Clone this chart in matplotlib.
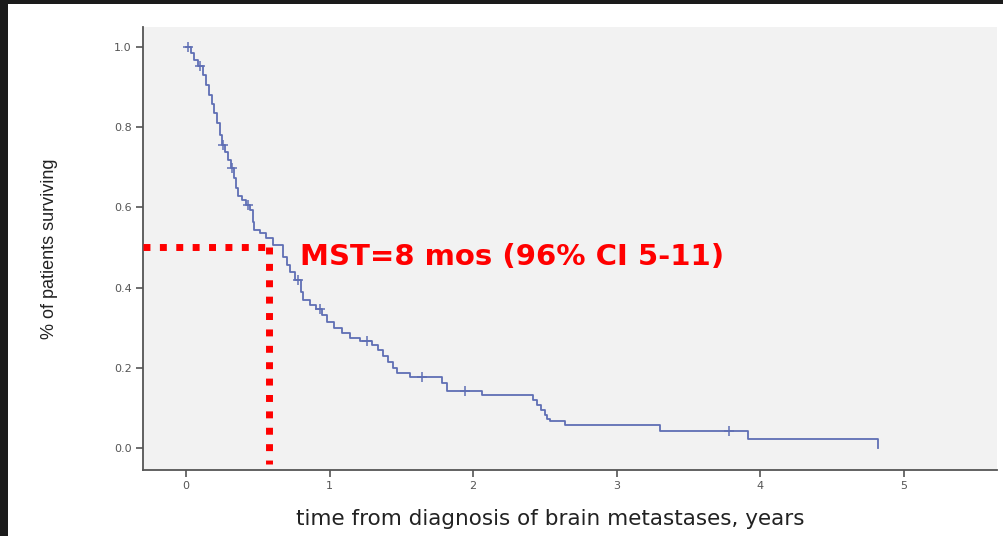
import numpy as np
import matplotlib
matplotlib.use("Agg")
import matplotlib.pyplot as plt
from matplotlib.patches import Rectangle

# Kaplan-Meier estimate: time (years) of each drop and survival level after it
event_times = [0.0, 0.035, 0.056, 0.084, 0.118, 0.139, 0.160, 0.181, 0.195, 0.216,
               0.237, 0.251, 0.272, 0.292, 0.313, 0.334, 0.348, 0.362, 0.390, 0.418,
               0.446, 0.467, 0.474, 0.515, 0.557, 0.606, 0.675, 0.703, 0.724, 0.759,
               0.801, 0.815, 0.864, 0.905, 0.947, 0.982, 1.031, 1.086, 1.142, 1.212,
               1.295, 1.337, 1.372, 1.407, 1.442, 1.469, 1.560, 1.783, 1.818, 2.061,
               2.416, 2.444, 2.472, 2.500, 2.514, 2.535, 2.639, 3.301, 3.914, 4.819]
survival = [1.000, 0.985, 0.968, 0.953, 0.930, 0.905, 0.880, 0.858, 0.835, 0.810,
            0.781, 0.756, 0.738, 0.718, 0.698, 0.673, 0.648, 0.628, 0.618, 0.606,
            0.594, 0.564, 0.544, 0.536, 0.524, 0.506, 0.476, 0.456, 0.439, 0.419,
            0.389, 0.369, 0.357, 0.347, 0.332, 0.314, 0.299, 0.287, 0.274, 0.267,
            0.257, 0.244, 0.229, 0.214, 0.200, 0.187, 0.177, 0.162, 0.142, 0.132,
            0.120, 0.107, 0.095, 0.082, 0.072, 0.067, 0.057, 0.042, 0.022, 0.000]
# censored observations (years)
censor_times = [0.014, 0.097, 0.255, 0.320, 0.432, 0.780, 0.933, 1.260, 1.643, 1.943, 3.781]

x_ticks = [0, 1, 2, 3, 4, 5]
y_ticks = [0.0, 0.2, 0.4, 0.6, 0.8, 1.0]
y_ticklabels = ["0.0", "0.2", "0.4", "0.6", "0.8", "1.0"]

median_survival = 0.5
median_marker_time = 0.575
annotation = "MST=8 mos (96% CI 5-11)"

W, H = 1004, 536
fig = plt.figure(figsize=(W / 100, H / 100), dpi=100, facecolor="#1b1b1b")
# white slide panel behind the chart
fig.patches.append(Rectangle((8 / W, 0), 1 - 8 / W, 1 - 3.5 / H,
                             transform=fig.transFigure, facecolor="white",
                             edgecolor="none", zorder=-5))

ax = fig.add_axes([143 / W, (H - 470) / H, 854 / W, 443 / H])
ax.set_zorder(2)
ax.set_facecolor("#f2f2f2")
ax.set_xlim(-0.299, 5.648)
ax.set_ylim(-0.055, 1.050)

line_col = "#5f6fb4"
ax.step(event_times, survival, where="post", color=line_col, lw=1.3, zorder=3)

t_arr = np.array(event_times)
s_arr = np.array(survival)
idx = np.searchsorted(t_arr, censor_times, side="right") - 1
ax.plot(censor_times, s_arr[idx], linestyle="none", marker="+", ms=6.5,
        mew=1.1, color=line_col, zorder=4)

for side in ("top", "right"):
    ax.spines[side].set_visible(False)
for side in ("left", "bottom"):
    ax.spines[side].set_color("#555555")
    ax.spines[side].set_linewidth(1.3)

ax.set_xticks(x_ticks)
ax.set_xticklabels([str(v) for v in x_ticks])
ax.set_yticks(y_ticks)
ax.set_yticklabels(y_ticklabels)
ax.tick_params(axis="both", direction="out", length=5, width=1.2, color="#555555",
               labelsize=8, labelcolor="#555555", pad=3)

ax.set_ylabel("% of patients surviving", family="Liberation Sans", fontsize=13,
              color="#222222")
ax.yaxis.set_label_coords(-0.099, 0.5)
ax.set_xlabel("time from diagnosis of brain metastases, years", family="DejaVu Sans",
              fontsize=15.5, color="#222222")
ax.xaxis.set_label_coords(0.4766, -0.088)

# median survival guide lines
red = "#ff0000"
ax.plot([-0.299, median_marker_time], [median_survival, median_survival],
        color=red, lw=5, dashes=(1, 1.36), dash_capstyle="butt", zorder=5)
ax.plot([median_marker_time, median_marker_time], [median_survival, -0.04],
        color=red, lw=5, dashes=(1, 1.36), dash_capstyle="butt", zorder=5)

ax.text(0.794, 0.456, annotation, color=red, fontsize=21, fontweight="bold",
        family="DejaVu Sans", ha="left", va="baseline", zorder=6)

fig.savefig("out.png", dpi=100, facecolor=fig.get_facecolor())
